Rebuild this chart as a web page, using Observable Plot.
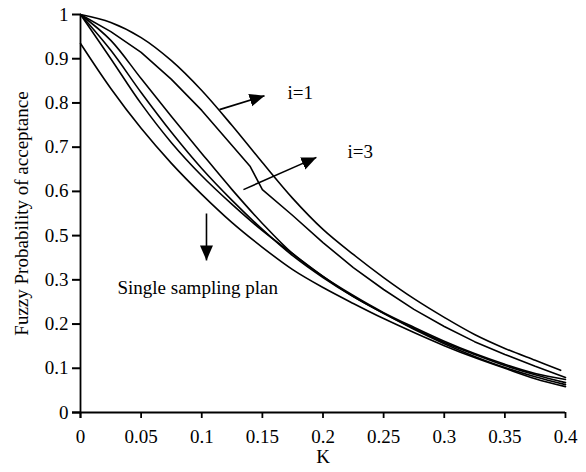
<!DOCTYPE html>
<html>
<head>
<meta charset="utf-8">
<script src="https://cdn.jsdelivr.net/npm/d3@7"></script>
<script src="https://cdn.jsdelivr.net/npm/@observablehq/plot@0.6"></script>
<style>
  html, body { margin: 0; padding: 0; background: #fff; }
  #chart { width: 586px; height: 472px; }
</style>
</head>
<body>
<div id="chart"></div>
<script>
// ---- Data ----
const K = [0, 0.025, 0.05, 0.075, 0.1, 0.125, 0.15, 0.175, 0.2, 0.225, 0.25, 0.275, 0.3, 0.325, 0.35, 0.375, 0.4];
const kA = [0, 0.025, 0.05, 0.075, 0.1, 0.125, 0.15, 0.175, 0.2, 0.225, 0.25, 0.275, 0.3, 0.325, 0.35, 0.375, 0.396];
const kB = [0, 0.025, 0.05, 0.075, 0.1, 0.125, 0.14, 0.15, 0.175, 0.2, 0.225, 0.25, 0.275, 0.3, 0.325, 0.35, 0.375, 0.4];

const curveA = [1.000, 0.980, 0.942, 0.884, 0.809, 0.721, 0.628, 0.538, 0.460, 0.397, 0.339, 0.286, 0.239, 0.196, 0.161, 0.131, 0.106];
const curveB = [1.000, 0.957, 0.905, 0.837, 0.759, 0.671, 0.618, 0.560, 0.495, 0.427, 0.364, 0.309, 0.259, 0.216, 0.178, 0.146, 0.116, 0.088];
const curveC = [1.000, 0.935, 0.839, 0.744, 0.651, 0.560, 0.475, 0.399, 0.342, 0.294, 0.251, 0.214, 0.179, 0.148, 0.121, 0.098, 0.083];
const curveD = [1.000, 0.910, 0.804, 0.704, 0.613, 0.533, 0.460, 0.394, 0.339, 0.291, 0.249, 0.211, 0.176, 0.146, 0.118, 0.095, 0.075];
const curveE = [1.000, 0.889, 0.776, 0.678, 0.595, 0.523, 0.457, 0.399, 0.342, 0.291, 0.249, 0.209, 0.173, 0.141, 0.113, 0.090, 0.070];
const curveSingle = [0.927, 0.814, 0.714, 0.626, 0.548, 0.477, 0.415, 0.359, 0.314, 0.274, 0.236, 0.201, 0.168, 0.138, 0.111, 0.085, 0.065];

const xTickLabels = ["0", "0.05", "0.1", "0.15", "0.2", "0.25", "0.3", "0.35", "0.4"];
const yTickLabels = ["0", "0.1", "0.2", "0.3", "0.5", "0.6", "0.7", "0.8", "0.9", "1"];

const xLabel = "K";
const yLabel = "Fuzzy Probability of acceptance";

const notes = [
  {text: "i=1", k: 0.1707, p: 0.804},
  {text: "i=3", k: 0.2202, p: 0.656},
  {text: "Single sampling plan", k: 0.0305, p: 0.314}
];
const arrows = [
  {k1: 0.1146, p1: 0.761, k2: 0.1518, p2: 0.796},
  {k1: 0.1344, p1: 0.560, k2: 0.1946, p2: 0.641},
  {k1: 0.1039, p1: 0.500, k2: 0.1039, p2: 0.382}
];

// ---- Build tables ----
const smoothSeries = [
  {name: "A", k: kA, p: curveA},
  {name: "C", k: K, p: curveC},
  {name: "D", k: K, p: curveD},
  {name: "E", k: K, p: curveE},
  {name: "Single", k: K, p: curveSingle}
];
const rows = smoothSeries.flatMap(s => s.p.map((v, i) => ({series: s.name, k: s.k[i], p: v})));
const rowsB = curveB.map((v, i) => ({series: "B", k: kB[i], p: v}));

const xTicks = xTickLabels.map(Number);
const yTicks = yTickLabels.map((_, i) => i / (yTickLabels.length - 1));

const font = "'Liberation Serif', 'Times New Roman', Times, serif";

const chart = Plot.plot({
  width: 586,
  height: 472,
  marginLeft: 80,
  marginRight: 21,
  marginTop: 14,
  marginBottom: 60,
  style: {fontFamily: font, fontSize: "19px", background: "white", color: "black", overflow: "visible"},
  x: {domain: [0, 0.4]},
  y: {domain: [0, 1]},
  marks: [
    Plot.axisX({ticks: xTicks, tickFormat: d => xTickLabels[xTicks.indexOf(d)] ?? "", tickSize: 6, tickPadding: 11, label: null, fontSize: 19, fontFamily: font, strokeWidth: 1.8}),
    Plot.axisY({ticks: yTicks, tickFormat: d => yTickLabels[Math.round(d * 9)], tickSize: 8, tickPadding: 4, label: null, fontSize: 19, fontFamily: font, strokeWidth: 2}),
    Plot.ruleY([0], {insetLeft: -8, stroke: "black", strokeWidth: 1.8}),
    Plot.ruleX([0], {insetBottom: -6, stroke: "black", strokeWidth: 1.8}),
    Plot.line(rows, {x: "k", y: "p", z: "series", stroke: "black", strokeWidth: 1.6, curve: "catmull-rom"}),
    Plot.line(rowsB, {x: "k", y: "p", stroke: "black", strokeWidth: 1.6, curve: "linear"}),
    Plot.text(notes, {x: "k", y: "p", text: "text", textAnchor: "start", lineAnchor: "middle", fontSize: 19, fontFamily: font, fill: "black"}),
    Plot.link(arrows, {x1: "k1", y1: "p1", x2: "k2", y2: "p2", stroke: "black", strokeWidth: 1.6, markerEnd: "arrow"}),
    Plot.text([xLabel], {frameAnchor: "bottom", lineAnchor: "bottom", dy: 50, fontSize: 19, fontFamily: font, fill: "black"}),
    Plot.text([yLabel], {frameAnchor: "left", textAnchor: "middle", lineAnchor: "middle", dx: -59, rotate: -90, fontSize: 19, fontFamily: font, fill: "black"})
  ]
});

document.getElementById("chart").appendChild(chart);

// turn the link markers into filled triangular arrowheads
d3.select(chart).selectAll("marker").each(function() {
  const m = d3.select(this);
  m.attr("viewBox", "-15 -7 15 14")
    .attr("markerUnits", "userSpaceOnUse")
    .attr("markerWidth", 15)
    .attr("markerHeight", 14)
    .attr("refX", 0)
    .attr("refY", 0)
    .attr("fill", "black")
    .attr("stroke", "none");
  m.selectAll("*").remove();
  m.append("path").attr("d", "M-15,-6.5L0,0L-15,6.5Z");
});
</script>
</body>
</html>
